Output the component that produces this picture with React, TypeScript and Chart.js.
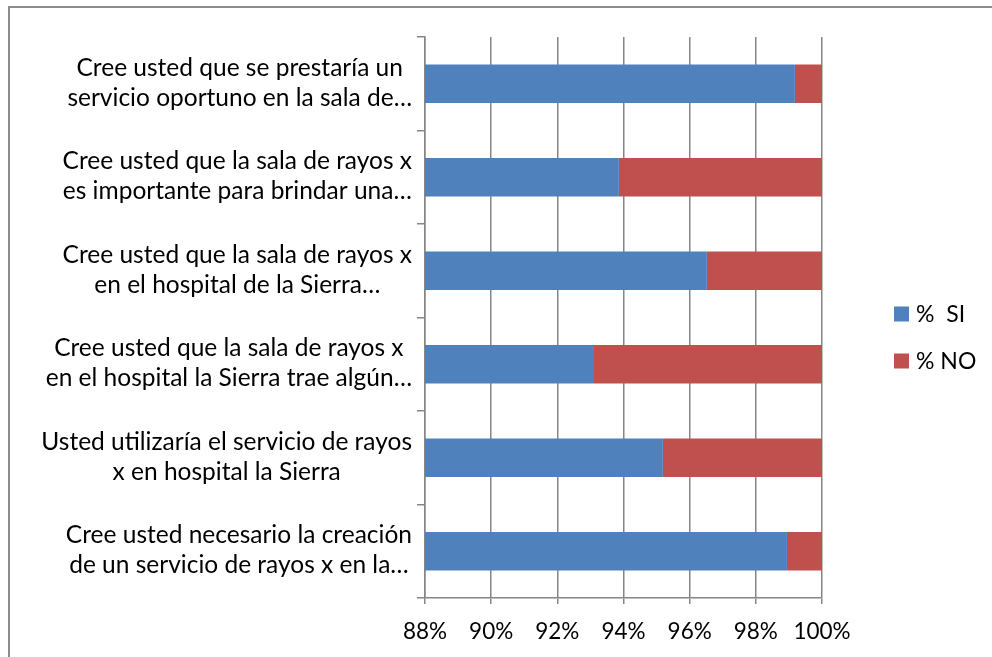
import React, { useEffect, useRef } from "react";
import { Chart, registerables } from "chart.js";

Chart.register(...registerables);

const categories: string[][] = [
  ["Cree usted que se prestaría un", "servicio oportuno en la sala de…"],
  ["Cree usted que la sala de rayos x", "es importante para brindar una…"],
  ["Cree usted que la sala de rayos x", "en el hospital de la Sierra…"],
  ["Cree usted que la sala de rayos x", "en el hospital la Sierra trae algún…"],
  ["Usted utilizaría el servicio de rayos", "x en hospital la Sierra"],
  ["Cree usted necesario la creación", "de un servicio de rayos x en la…"],
];
const siValues = [99.18, 93.86, 96.52, 93.08, 95.19, 98.94];
const noValues = [0.82, 6.14, 3.48, 6.92, 4.81, 1.06];
const seriesNames = ["%  SI", "% NO"];
const seriesColors = ["#4F81BD", "#C0504D"];
const xMin = 88;
const xMax = 100;
const xStep = 2;

const FONT_FAMILY = "Lato";

export default function App() {
  const ref = useRef<HTMLCanvasElement | null>(null);

  useEffect(() => {
    if (!ref.current) return;
    const decor = {
      id: "decor",
      afterDraw(chart: any) {
        const ctx = chart.ctx as CanvasRenderingContext2D;
        const yScale = chart.scales.y;
        ctx.save();
        // outer border
        ctx.strokeStyle = "#8c8c8c";
        ctx.lineWidth = 2;
        ctx.strokeRect(9, 7, 2000, 2000);
        // category labels: block right-aligned, lines centered
        ctx.font = `24.5px ${FONT_FAMILY}`;
        ctx.fillStyle = "#000";
        ctx.textBaseline = "middle";
        ctx.textAlign = "center";
        const rightEdge = 412;
        const lh = 30;
        categories.forEach((lines, i) => {
          const yc = yScale.getPixelForValue(i) - 1;
          const w = Math.max(...lines.map((l) => ctx.measureText(l).width));
          const xc = rightEdge - w / 2;
          lines.forEach((l, j) => {
            const y = yc + (j - (lines.length - 1) / 2) * lh;
            ctx.fillText(l, xc, y);
          });
        });
        // legend
        ctx.font = `23px ${FONT_FAMILY}`;
        const legY = [314, 361];
        ctx.textAlign = "left";
        seriesNames.forEach((n, i) => {
          ctx.fillStyle = seriesColors[i];
          ctx.fillRect(894, legY[i] - 7.5, 15, 15);
          ctx.fillStyle = "#000";
          ctx.fillText(n, 916, legY[i] + 1);
        });
        ctx.restore();
      },
    };

    const chart = new Chart(ref.current, {
      type: "bar",
      data: {
        labels: categories.map((c) => c.join(" ")),
        datasets: [
          {
            label: seriesNames[0],
            data: siValues,
            backgroundColor: seriesColors[0],
            categoryPercentage: 1,
            barPercentage: 0.41,
          },
          {
            label: seriesNames[1],
            data: noValues,
            backgroundColor: seriesColors[1],
            categoryPercentage: 1,
            barPercentage: 0.41,
          },
        ],
      },
      options: {
        indexAxis: "y",
        animation: false,
        responsive: false,
        maintainAspectRatio: false,
        layout: { padding: { left: 0, top: 37, right: 170, bottom: 0 } },
        plugins: {
          legend: { display: false },
          tooltip: { enabled: false },
        },
        scales: {
          x: {
            type: "linear",
            stacked: true,
            min: xMin,
            max: xMax,
            afterFit(scale: any) {
              scale.height = 59;
            },
            ticks: {
              stepSize: xStep,
              callback: (v: any) => `${v}%`,
              color: "#000",
              font: { family: FONT_FAMILY, size: 22.5 },
              padding: 14,
              maxRotation: 0,
            },
            grid: {
              color: "#868686",
              lineWidth: 1.5,
              tickLength: 6,
              drawTicks: true,
            },
            border: { display: true, color: "#868686", width: 1.5 },
          },
          y: {
            type: "category",
            stacked: true,
            offset: true,
            afterFit(scale: any) {
              scale.width = 425;
            },
            ticks: { display: false },
            grid: {
              offset: true,
              drawOnChartArea: false,
              drawTicks: true,
              tickLength: 8,
              color: "#868686",
              lineWidth: 1.5,
            },
            border: { display: true, color: "#868686", width: 1.5 },
          },
        },
      },
      plugins: [decor],
    });
    return () => chart.destroy();
  }, []);

  return (
    <div style={{ position: "fixed", left: 0, top: 0, width: 992, height: 657, background: "#fff" }}>
      <canvas ref={ref} width={992} height={657} style={{ width: 992, height: 657, display: "block" }} />
    </div>
  );
}
